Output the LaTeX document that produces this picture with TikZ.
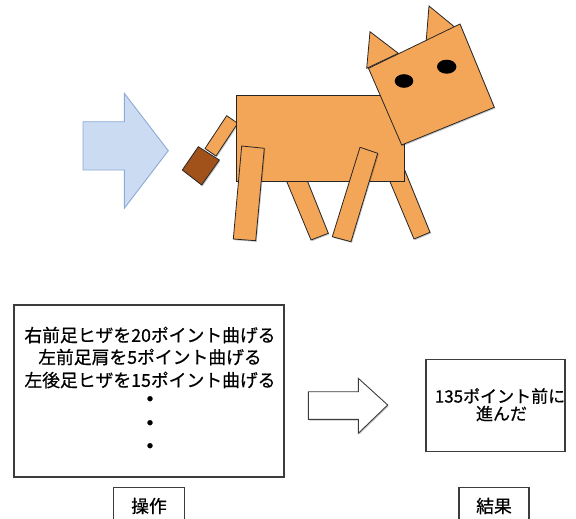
\documentclass[tikz,border=0pt]{standalone}
\usepackage{fontspec}
\setmainfont{Noto Sans CJK JP}[FakeBold=0.6]
\usetikzlibrary{shadows}

\definecolor{catfur}{RGB}{244,166,88}
\definecolor{tailtip}{RGB}{160,82,26}
\definecolor{arrowfill}{RGB}{203,219,242}
\definecolor{arrowline}{RGB}{140,170,212}
\definecolor{boxline}{RGB}{60,60,60}

\tikzset{
  softshadow/.style={drop shadow={shadow xshift=1pt,shadow yshift=-1.2pt,opacity=0.22,fill=black}},
  part/.style={fill=catfur,draw=black!85,line width=0.8pt,line join=miter,softshadow},
  tailpart/.style={part,fill=tailtip},
  eye/.style={fill=black},
  framebox/.style={draw=boxline,line width=1.1pt,fill=white,inner sep=0pt,softshadow},
  line17/.style={inner sep=0pt,font=\fontsize{17.8}{21}\selectfont},
  line16/.style={inner sep=0pt,font=\fontsize{17}{20}\selectfont},
  dotline/.style={inner sep=0pt,font=\fontsize{24}{24}\selectfont},
}

\begin{document}
\begin{tikzpicture}[x=1pt,y=-1pt]
\useasboundingbox (0,0) rectangle (576,519);
\clip (0,0) rectangle (576,519);

% big light-blue arrow pointing at the cat
\filldraw[fill=arrowfill,draw=arrowline,line width=0.9pt,line join=miter]
  (83,121.7) -- (124.3,121.7) -- (124.3,93.3) -- (168.3,150.7)
  -- (124.3,208.3) -- (124.3,170) -- (83,170) -- cycle;

% ---- the cat ----
% legs behind the body
\filldraw[part] (284,175) -- (305,175) -- (328.3,233.3) -- (311,240) -- cycle;
\filldraw[part] (383,165) -- (402.6,165) -- (430,232.3) -- (414,239) -- cycle;
% tail: stick and brown tip
\filldraw[part] (226.7,115.7) -- (237.7,123.3) -- (216,156) -- (205,148.5) -- cycle;
\filldraw[tailpart] (198.3,146.7) -- (219.3,160) -- (201.7,185) -- (182.3,170) -- cycle;
% body
\filldraw[part] (236,95) rectangle (404,181);
% legs in front of the body
\filldraw[part] (241.7,146) -- (264.3,148.3) -- (255.7,240.7) -- (233.3,239) -- cycle;
\filldraw[part] (360,147.3) -- (377.7,153.3) -- (351,241.7) -- (332.3,236.7) -- cycle;
% ears
\filldraw[part] (370,31.7) -- (398.3,53.3) -- (366.7,68.3) -- cycle;
\filldraw[part] (429,6) -- (458.3,30) -- (426,43.3) -- cycle;
% head
\filldraw[part] (368.5,68.3) -- (460,24) -- (494.3,107.3) -- (401.7,145) -- cycle;
% eyes
\fill[eye] (404,81) ellipse [x radius=9.3,y radius=6.8];
\fill[eye] (446.7,66.7) ellipse [x radius=9.7,y radius=7];

% ---- operations and result ----
\node[framebox,minimum width=270pt,minimum height=172pt] (ops) at (149,391) {};
\node[line17] (op1) at (150,335) {右前足ヒザを20ポイント曲げる};
\node[line17] (op2) at (150,357) {左前足肩を5ポイント曲げる};
\node[line17] (op3) at (150,380) {左後足ヒザを15ポイント曲げる};
\node[dotline] (dot1) at (150,402) {・};
\node[dotline] (dot2) at (150,426) {・};
\node[dotline] (dot3) at (150,449) {・};

% hollow arrow from operations to result
\filldraw[fill=white,draw=boxline,line width=0.9pt,line join=miter,softshadow]
  (308.3,391.7) -- (358.3,391.7) -- (358.3,378.3) -- (387.7,405)
  -- (358.3,433.3) -- (358.3,419.3) -- (308.3,419.3) -- cycle;

\node[framebox,minimum width=139pt,minimum height=92pt] (res) at (495.5,405.2) {};
\node[line16] (res1) at (500,396) {135ポイント前に};
\node[line16] (res2) at (501.5,413.5) {進んだ};

% captions
\node[framebox,minimum width=71pt,minimum height=44pt,anchor=north] (opcap) at (148.7,487.3) {};
\node[line17] (opcapt) at (149,506) {操作};
\node[framebox,minimum width=70pt,minimum height=44pt,anchor=north] (rescap) at (494,486.8) {};
\node[line17] (rescapt) at (494,506) {結果};
\end{tikzpicture}
\end{document}
